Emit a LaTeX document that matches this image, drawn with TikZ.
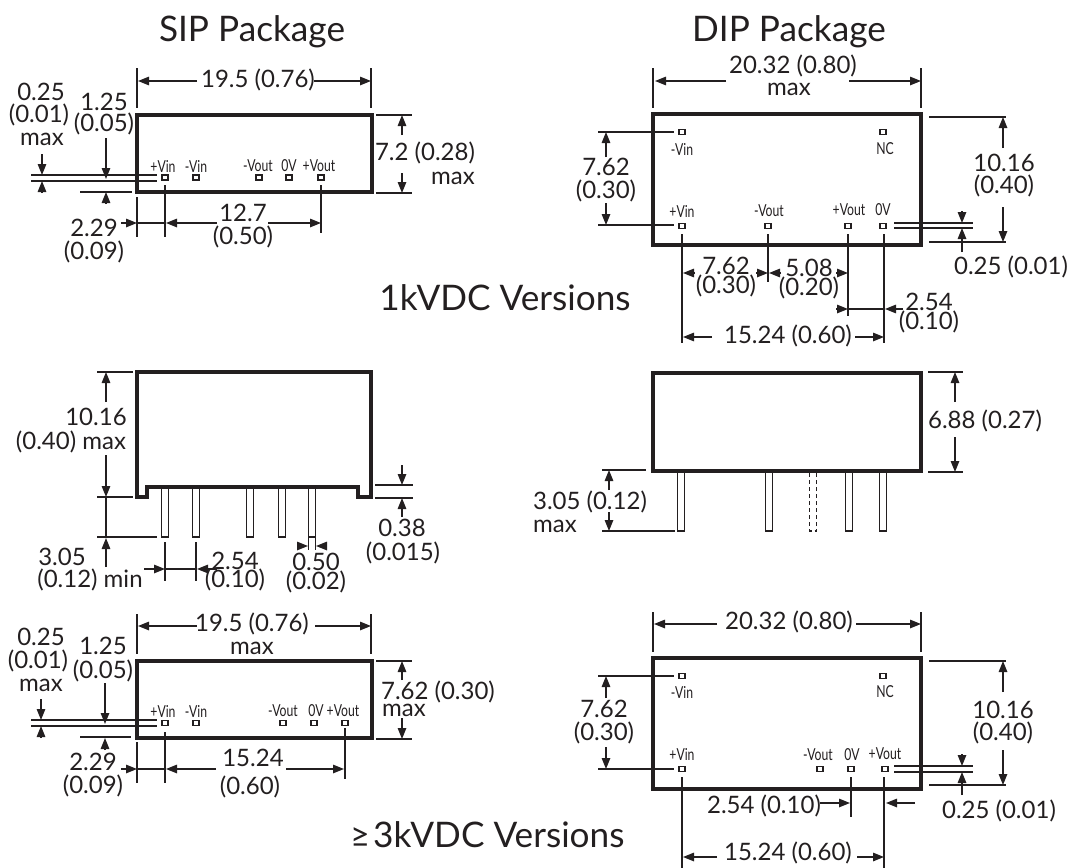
\documentclass[tikz,border=0pt]{standalone}
\usepackage{fontspec}
\setmainfont{Lato}
\newfontfamily\pinfont[FakeStretch=0.74]{Lato}
\usetikzlibrary{arrows.meta}
\definecolor{ink}{HTML}{231F20}
\tikzset{
	extline/.style={line width=1.3pt, draw=ink},
	dimline/.style={line width=1.4pt, draw=ink, -{Triangle[length=11pt,width=8.5pt]}},
	pkgbox/.style={line width=3.4pt, draw=ink, miter limit=10},
	pinbox/.style={line width=1.9pt, draw=ink},
	pinline/.style={line width=1.5pt, draw=ink},
	dimtext/.style={font=\fontsize{24}{24}\selectfont, text=ink, inner sep=0pt},
	pintext/.style={font=\pinfont\fontsize{16.5}{16.5}\selectfont, text=ink, inner sep=0pt},
	titletext/.style={font=\fontsize{35.2}{35.2}\selectfont, text=ink, inner sep=0pt},
}
\begin{document}
\begin{tikzpicture}[x=1pt,y=-1pt]
	\useasboundingbox (0,0) rectangle (1069,868);
	% titles
	\node[titletext] (sipTitle) at (252,32) {SIP Package};
	\node[titletext] (dipTitle) at (789,32) {DIP Package};
	\node[titletext] (kvOne) at (505,298) {1kVDC Versions};
	\node[titletext] (kvThree) at (487.5,835) {{\fontsize{34}{34}\selectfont ≥}\hspace{3pt}3kVDC Versions};

	% SIP package, 1kV
	\draw[pkgbox] (137,115) rectangle (372,192);
	\foreach \x in {165,196,259,289,321}
	{
		\draw[pinbox] (\x-3,175) rectangle (\x+3,180);
	}
	\foreach \x/\t [count=\i] in {163/+Vin,196/-Vin,258/-Vout,289/0V,319/+Vout}
	{
		\node[pintext] (sipPin\i) at (\x,166) {\t};
	}
	\foreach \x/\y/\t [count=\i] in {258/80/19.5 (0.76),425/153/7.2 (0.28),453/178/max,41/92/0.25,39/115/(0.01),42/139/max,
		104/102/1.25,104/124/(0.05),94/228/2.29,94/252/(0.09),243/213/12.7,243/237/(0.50)}
	{
		\node[dimtext] (sipDim\i) at (\x,\y) {\t};
	}
	\draw[extline] (137,68) -- (137,108);
	\draw[extline] (371,68) -- (371,108);
	\draw[dimline] (197,81) -- (138,81);
	\draw[dimline] (314,81) -- (371,81);
	\draw[extline] (376,115) -- (412,115);
	\draw[extline] (376,193) -- (412,193);
	\draw[dimline] (402,135) -- (402,115);
	\draw[dimline] (402,173) -- (402,193);
	\draw[extline] (31,175) -- (157,175);
	\draw[extline] (31,181) -- (157,181);
	\draw[extline] (80,192) -- (132,192);
	\draw[dimline] (42,154) -- (42,175);
	\draw[dimline] (42,193) -- (42,181);
	\draw[dimline] (106,138) -- (106,179);
	\draw[dimline] (106,204) -- (106,192);
	\draw[extline] (137,197) -- (137,237);
	\draw[extline] (165,185) -- (165,237);
	\draw[extline] (321,185) -- (321,233);
	\draw[dimline] (121,223) -- (137,223);
	\draw[extline] (137,223) -- (165,223);
	\draw[dimline] (217,223) -- (166,223);
	\draw[dimline] (268,223) -- (321,223);

	% DIP package, 1kV
	\draw[pkgbox] (653,114) rectangle (921,245);
	\foreach \x/\y in {682/132,883/132,682/226,768/226,848/226,883/226}
	{
		\draw[pinbox] (\x-3,\y-2.5) rectangle (\x+3,\y+2.5);
	}
	\foreach \x/\y/\t [count=\i] in {682/149/-Vin,885/149/NC,682/211/+Vin,769/211/-Vout,849/210/+Vout,883/210/0V}
	{
		\node[pintext] (dipPin\i) at (\x,\y) {\t};
	}
	\foreach \x/\y/\t [count=\i] in {793/66/20.32 (0.80),789/89/max,606/167/7.62,606/191/(0.30),1004/163/10.16,1004/186/(0.40),
		1011/267/0.25 (0.01),726/266/7.62,726/286/(0.30),809/268/5.08,809/288/(0.20),929/302/2.54,929/322/(0.10),788/336/15.24 (0.60)}
	{
		\node[dimtext] (dipDim\i) at (\x,\y) {\t};
	}
	\draw[extline] (653,68) -- (653,108);
	\draw[extline] (921,68) -- (921,108);
	\draw[dimline] (726,81) -- (655,81);
	\draw[dimline] (849,81) -- (921,81);
	\draw[extline] (598,132) -- (674,132);
	\draw[extline] (598,225) -- (674,225);
	\draw[dimline] (606,157) -- (606,132);
	\draw[dimline] (606,203) -- (606,225);
	\draw[extline] (929,117) -- (1006,117);
	\draw[extline] (929,242) -- (1006,242);
	\draw[dimline] (1003,148) -- (1003,117);
	\draw[dimline] (1003,207) -- (1003,242);
	\draw[extline] (894,223) -- (973,223);
	\draw[extline] (894,228) -- (973,228);
	\draw[dimline] (962,211) -- (962,223);
	\draw[dimline] (962,252) -- (962,228);
	\draw[extline] (682,234) -- (682,343);
	\draw[extline] (768,234) -- (768,282);
	\draw[extline] (848,234) -- (848,316);
	\draw[extline] (884,234) -- (884,343);
	\draw[dimline] (695,273) -- (683,273);
	\draw[dimline] (756,273) -- (768,273);
	\draw[dimline] (781,273) -- (769,273);
	\draw[dimline] (836,273) -- (848,273);
	\draw[extline] (848,309) -- (884,309);
	\draw[dimline] (836,309) -- (848,309);
	\draw[dimline] (903,309) -- (885,309);
	\draw[dimline] (712,337) -- (683,337);
	\draw[dimline] (855,337) -- (884,337);

	% SIP package, side view
	\draw[pkgbox] (137,372) -- (371,372) -- (371,497) -- (358,497) -- (358,487) -- (147,487) -- (147,497) -- (137,497) -- cycle;
	\foreach \x in {165,196,250,282,312}
	{
		\draw[pinline] (\x-3.5,489) -- (\x-3.5,537) -- (\x+3.5,537) -- (\x+3.5,489);
	}
	\foreach \x/\y/\t [count=\i] in {96/417/10.16,71/442/(0.40) max,62/557/3.05,90/580/(0.12) min,235/561/2.54,235/580/(0.10),
		316/562/0.50,316/582/(0.02),402/528/0.38,403/553/(0.015)}
	{
		\node[dimtext] (sideDim\i) at (\x,\y) {\t};
	}
	\draw[extline] (97,372) -- (133,372);
	\draw[extline] (97,497) -- (133,497);
	\draw[extline] (97,537) -- (157,537);
	\draw[dimline] (106,402) -- (106,372);
	\draw[dimline] (106,455) -- (106,497);
	\draw[extline] (106,497) -- (106,537);
	\draw[dimline] (106,567) -- (106,538);
	\draw[extline] (165,542) -- (165,581);
	\draw[extline] (196,542) -- (196,581);
	\draw[dimline] (144,569) -- (165,569);
	\draw[extline] (165,569) -- (196,569);
	\draw[dimline] (217,569) -- (197,569);
	\draw[extline] (308.5,537) -- (308.5,550);
	\draw[extline] (315.5,537) -- (315.5,550);
	\draw[dimline] (297,546) -- (308,546);
	\draw[dimline] (326,546) -- (316,546);
	\draw[extline] (375,485) -- (413,485);
	\draw[extline] (375,498) -- (413,498);
	\draw[dimline] (402,465) -- (402,485);
	\draw[dimline] (402,517) -- (402,498);

	% DIP package, side view
	\draw[pkgbox] (653,373) rectangle (921,471);
	\foreach \x in {681,769,849,883}
	{
		\draw[pinline] (\x-3.5,473) -- (\x-3.5,531) -- (\x+3.5,531) -- (\x+3.5,473);
	}
	\draw[pinline, dash pattern=on 4pt off 3pt] (809.5,473) -- (809.5,531) -- (816.5,531) -- (816.5,473);
	\foreach \x/\y/\t [count=\i] in {985/421/6.88 (0.27),590/502/3.05 (0.12),555/526/max}
	{
		\node[dimtext] (sideDipDim\i) at (\x,\y) {\t};
	}
	\draw[extline] (928,372) -- (963,372);
	\draw[extline] (928,472) -- (963,472);
	\draw[dimline] (955,402) -- (955,372);
	\draw[dimline] (955,437) -- (955,472);
	\draw[extline] (602,470) -- (646,470);
	\draw[extline] (602,531) -- (675,531);
	\draw[dimline] (609,490) -- (609,470);
	\draw[dimline] (609,512) -- (609,531);

	% SIP package, 3kV
	\draw[pkgbox] (137,661) rectangle (372,738);
	\foreach \x in {165,196,283,314,345}
	{
		\draw[pinbox] (\x-3,720.5) rectangle (\x+3,725.5);
	}
	\foreach \x/\t [count=\i] in {163/+Vin,196/-Vin,283/-Vout,316/0V,343/+Vout}
	{
		\node[pintext] (lowPin\i) at (\x,711) {\t};
	}
	\foreach \x/\y/\t [count=\i] in {252/624/19.5 (0.76),252/648/max,438/692/7.62 (0.30),404/710/max,41/637/0.25,38/661/(0.01),41/685/max,
		103/646/1.25,103/671/(0.05),253/758/15.24,250/787/(0.60),93/762/2.29,93/786/(0.09)}
	{
		\node[dimtext] (lowDim\i) at (\x,\y) {\t};
	}
	\draw[extline] (137,614) -- (137,654);
	\draw[extline] (371,614) -- (371,654);
	\draw[dimline] (197,626) -- (138,626);
	\draw[dimline] (315,626) -- (371,626);
	\draw[extline] (376,661) -- (412,661);
	\draw[extline] (376,739) -- (412,739);
	\draw[dimline] (402,680) -- (402,661);
	\draw[dimline] (402,718) -- (402,739);
	\draw[extline] (31,720) -- (157,720);
	\draw[extline] (31,726) -- (157,726);
	\draw[extline] (80,737) -- (131,737);
	\draw[dimline] (41,699) -- (41,720);
	\draw[dimline] (41,738) -- (41,726);
	\draw[dimline] (105,683) -- (105,724);
	\draw[dimline] (105,750) -- (105,738);
	\draw[extline] (137,742) -- (137,783);
	\draw[extline] (165,732) -- (165,783);
	\draw[extline] (345,728) -- (345,779);
	\draw[dimline] (121,769) -- (137,769);
	\draw[extline] (137,769) -- (165,769);
	\draw[dimline] (216,769) -- (166,769);
	\draw[dimline] (286,769) -- (344,769);

	% DIP package, 3kV
	\draw[pkgbox] (653,658) rectangle (921,789);
	\foreach \x/\y in {682/676,883/676,682/769,820/769,851/769,885/769}
	{
		\draw[pinbox] (\x-3,\y-2.5) rectangle (\x+3,\y+2.5);
	}
	\foreach \x/\y/\t [count=\i] in {682/692/-Vin,885/692/NC,682/754/+Vin,818/755/-Vout,852/755/0V,885/754/+Vout}
	{
		\node[pintext] (lowDipPin\i) at (\x,\y) {\t};
	}
	\foreach \x/\y/\t [count=\i] in {789/622/20.32 (0.80),604/709/7.62,604/733/(0.30),1003/710/10.16,1003/733/(0.40),
		999/811/0.25 (0.01),764/806/2.54 (0.10),788/853/15.24 (0.60)}
	{
		\node[dimtext] (lowDipDim\i) at (\x,\y) {\t};
	}
	\draw[extline] (653,612) -- (653,652);
	\draw[extline] (921,612) -- (921,652);
	\draw[dimline] (717,624) -- (654,624);
	\draw[dimline] (856,624) -- (921,624);
	\draw[extline] (598,676) -- (674,676);
	\draw[extline] (598,769) -- (674,769);
	\draw[dimline] (606,698) -- (606,676);
	\draw[dimline] (606,747) -- (606,769);
	\draw[extline] (929,661) -- (1006,661);
	\draw[extline] (929,785) -- (1006,785);
	\draw[dimline] (1003,692) -- (1003,661);
	\draw[dimline] (1003,750) -- (1003,785);
	\draw[extline] (894,766) -- (973,766);
	\draw[extline] (894,772) -- (973,772);
	\draw[dimline] (962,754) -- (962,766);
	\draw[dimline] (962,795) -- (962,772);
	\draw[extline] (682,777) -- (682,868);
	\draw[extline] (851,777) -- (851,817);
	\draw[extline] (884,777) -- (884,868);
	\draw[dimline] (820,803) -- (850,803);
	\draw[dimline] (915,803) -- (886,803);
	\draw[dimline] (717,857) -- (683,857);
	\draw[dimline] (857,857) -- (884,857);
\end{tikzpicture}
\end{document}
